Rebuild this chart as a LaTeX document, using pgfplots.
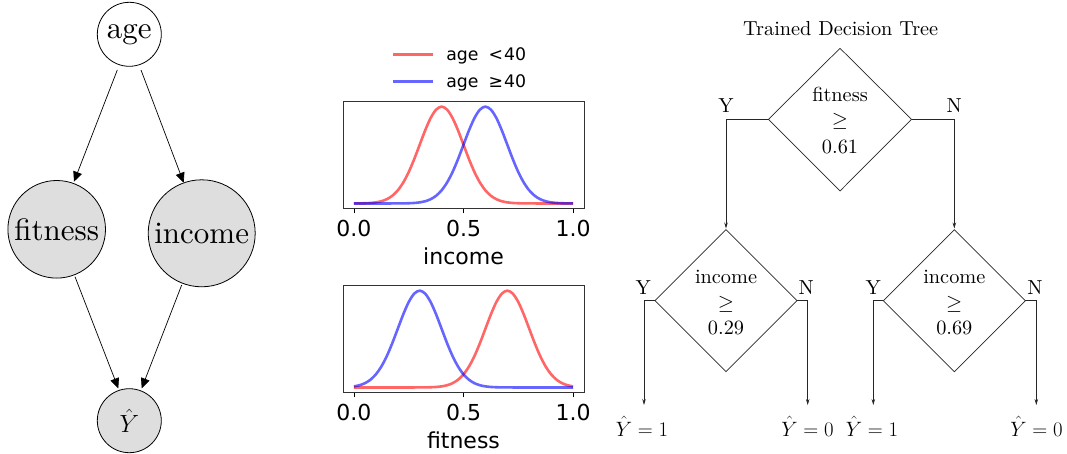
\documentclass[border=0pt]{standalone}
\usepackage{fontspec}
\usepackage{pgfplots}
\pgfplotsset{compat=1.18}
\usepackage{pgfplotstable}
\usetikzlibrary{arrows.meta}
\newfontfamily\djv{DejaVu Sans}
\newfontfamily\cmten{lmroman10-regular.otf}
\definecolor{nodegray}{RGB}{222,222,222}
\definecolor{framegray}{RGB}{50,50,50}

% x: value; a: N(0.3,0.1); b: N(0.4,0.1); c: N(0.6,0.1); d: N(0.7,0.1) densities
\pgfplotstableread{
x a b c d
0.000 0.0443 0.0013 0.0000 0.0000
0.025 0.0910 0.0035 0.0000 0.0000
0.050 0.1753 0.0087 0.0000 0.0000
0.075 0.3174 0.0203 0.0000 0.0000
0.100 0.5399 0.0443 0.0000 0.0000
0.125 0.8628 0.0910 0.0000 0.0000
0.150 1.2952 0.1753 0.0001 0.0000
0.175 1.8265 0.3174 0.0005 0.0000
0.200 2.4197 0.5399 0.0013 0.0000
0.225 3.0114 0.8628 0.0035 0.0000
0.250 3.5207 1.2952 0.0087 0.0001
0.275 3.8667 1.8265 0.0203 0.0005
0.300 3.9894 2.4197 0.0443 0.0013
0.325 3.8667 3.0114 0.0910 0.0035
0.350 3.5207 3.5207 0.1753 0.0087
0.375 3.0114 3.8667 0.3174 0.0203
0.400 2.4197 3.9894 0.5399 0.0443
0.425 1.8265 3.8667 0.8628 0.0910
0.450 1.2952 3.5207 1.2952 0.1753
0.475 0.8628 3.0114 1.8265 0.3174
0.500 0.5399 2.4197 2.4197 0.5399
0.525 0.3174 1.8265 3.0114 0.8628
0.550 0.1753 1.2952 3.5207 1.2952
0.575 0.0910 0.8628 3.8667 1.8265
0.600 0.0443 0.5399 3.9894 2.4197
0.625 0.0203 0.3174 3.8667 3.0114
0.650 0.0087 0.1753 3.5207 3.5207
0.675 0.0035 0.0910 3.0114 3.8667
0.700 0.0013 0.0443 2.4197 3.9894
0.725 0.0005 0.0203 1.8265 3.8667
0.750 0.0001 0.0087 1.2952 3.5207
0.775 0.0000 0.0035 0.8628 3.0114
0.800 0.0000 0.0013 0.5399 2.4197
0.825 0.0000 0.0005 0.3174 1.8265
0.850 0.0000 0.0001 0.1753 1.2952
0.875 0.0000 0.0000 0.0910 0.8628
0.900 0.0000 0.0000 0.0443 0.5399
0.925 0.0000 0.0000 0.0203 0.3174
0.950 0.0000 0.0000 0.0087 0.1753
0.975 0.0000 0.0000 0.0035 0.0910
1.000 0.0000 0.0000 0.0013 0.0443
}\dens

\pgfplotsset{dens/.style={
  scale only axis, width=241pt, height=106.5pt,
  xmin=-0.05, xmax=1.05, ymin=-0.1995, ymax=4.189,
  ytick=\empty, xtick={0,0.5,1}, xticklabels={0.0,0.5,1.0},
  xtick pos=left, tick align=outside, major tick length=5pt,
  tick style={black, line width=0.9pt},
  axis line style={framegray, line width=0.9pt},
  ticklabel style={font=\djv\fontsize{22}{26}\selectfont},
  xticklabel style={yshift=-3pt},
  label style={font=\djv\fontsize{22}{26}\selectfont},
  xlabel style={yshift=-4pt},
}}

\begin{document}
\begin{tikzpicture}
\useasboundingbox (0pt,0pt) rectangle (1067pt,453pt);

% income densities
\begin{axis}[dens, at={(343pt,244.7pt)}, anchor=south west, xlabel={income},
  legend style={draw=none, fill=none, at={(0.485,1.10)}, anchor=south,
    font=\djv\fontsize{17.3}{20}\selectfont, row sep=9pt, inner sep=0pt,
    /tikz/every odd column/.append style={column sep=10pt}},
  legend cell align=left,
  legend image code/.code={\draw[#1] (0pt,0pt) -- (40pt,0pt);}]
\addplot[red, draw opacity=0.6, line width=2.6pt, smooth] table[x=x, y=b] {\dens};
\addlegendentry{age\hspace{10pt}<\hspace{1pt}40}
\addplot[blue, draw opacity=0.6, line width=2.6pt, smooth] table[x=x, y=c] {\dens};
\addlegendentry{age\hspace{10pt}≥\hspace{1pt}40}
\end{axis}

% fitness densities
\begin{axis}[dens, at={(343pt,60.7pt)}, anchor=south west, xlabel={fitness}]
\addplot[red, draw opacity=0.6, line width=2.6pt, smooth] table[x=x, y=d] {\dens};
\addplot[blue, draw opacity=0.6, line width=2.6pt, smooth] table[x=x, y=a] {\dens};
\end{axis}

\begin{scope}[shift={(0pt,453pt)}, x=1pt, y=-1pt]
% causal graph
\tikzset{gn/.style={circle, draw=black, line width=0.8pt, inner sep=0pt,
  font=\cmten\fontsize{31}{36}\selectfont}}
\node[gn, minimum size=64pt, fill=white] at (129.3,34.3) {age};
\node[gn, minimum size=97.6pt, fill=nodegray] at (56.7,229.3) {fitness};
\node[gn, minimum size=107pt, fill=nodegray] at (201.7,233.3) {income};
\node[gn, minimum size=64pt, fill=nodegray] at (129.3,420.7) {$\hat{Y}$};
\tikzset{ga/.style={line width=0.7pt, -{Triangle[length=10pt,width=9pt]}}}
\draw[ga] (117.3,70) -- (74,181.7);
\draw[ga] (141,70) -- (183.7,182.7);
\draw[ga] (75,276.7) -- (118.3,388.3);
\draw[ga] (181.7,285) -- (141.7,388.3);

% decision tree
\tikzset{tt/.style={font=\cmten\fontsize{20.3}{24}\selectfont, inner sep=0pt},
  tl/.style={line width=0.7pt, draw=black!85},
  ta/.style={tl, -{Stealth[length=6pt,width=3.5pt]}}}
\node[tt, anchor=base] at (840.7,36) {Trained Decision Tree};
% root
\draw[tl] (840,48.3) -- (911.5,119.3) -- (840,191) -- (768.5,119.3) -- cycle;
\node[tt, anchor=base] at (840,101.7) {fitness};
\node[tt] at (840,121.3) {$\geq$};
\node[tt, anchor=base] at (840,153.3) {0.61};
\draw[ta] (768.5,119.3) -- (726,119.3) -- (726,228.5);
\draw[ta] (911.5,119.3) -- (954.3,119.3) -- (954.3,228.5);
\node[tt, anchor=base] at (726,112.7) {Y};
\node[tt, anchor=base] at (954.3,112.7) {N};
% left child
\draw[tl] (726,229.7) -- (797,300.7) -- (726,371.7) -- (655,300.7) -- cycle;
\node[tt, anchor=base] at (726,283.3) {income};
\node[tt] at (726,304) {$\geq$};
\node[tt, anchor=base] at (726,334) {0.29};
\draw[ta] (655,300.7) -- (644,300.7) -- (644,405);
\draw[ta] (797,300.7) -- (807.7,300.7) -- (807.7,405);
\node[tt, anchor=base] at (643.3,294) {Y};
\node[tt, anchor=base] at (806.2,294) {N};
% right child
\draw[tl] (954.3,229.7) -- (1025.3,300.7) -- (954.3,371.7) -- (883.3,300.7) -- cycle;
\node[tt, anchor=base] at (954.3,283.3) {income};
\node[tt] at (954.3,304) {$\geq$};
\node[tt, anchor=base] at (954.3,334) {0.69};
\draw[ta] (883.3,300.7) -- (873.3,300.7) -- (873.3,405);
\draw[ta] (1025.3,300.7) -- (1036.3,300.7) -- (1036.3,405);
\node[tt, anchor=base] at (873.3,294) {Y};
\node[tt, anchor=base] at (1035,294) {N};
% leaves
\node[tt, anchor=base] at (642,436) {$\hat{Y}=1$};
\node[tt, anchor=base] at (807.5,436) {$\hat{Y}=0$};
\node[tt, anchor=base] at (872,436) {$\hat{Y}=1$};
\node[tt, anchor=base] at (1036.5,436) {$\hat{Y}=0$};
\end{scope}
\end{tikzpicture}
\end{document}
